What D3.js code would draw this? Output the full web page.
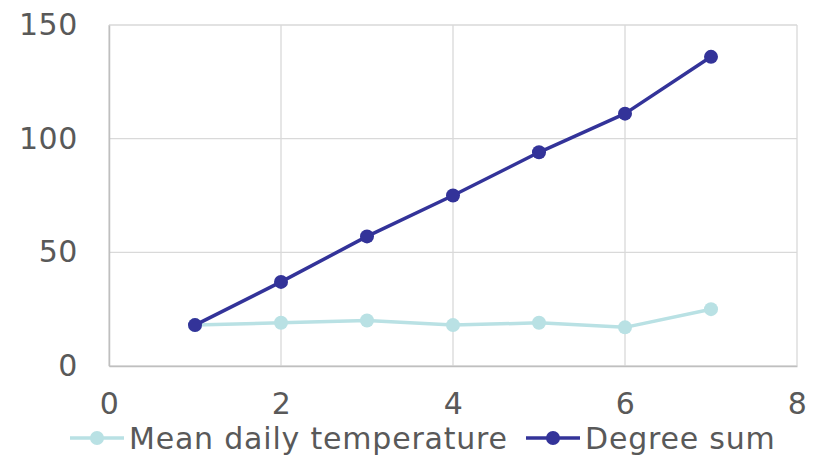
<!DOCTYPE html>
<html>
<head>
<meta charset="utf-8">
<script src="https://cdn.jsdelivr.net/npm/d3@7"></script>
<style>
  html, body { margin: 0; padding: 0; background: #fff; }
  svg text { font-family: Verdana, "DejaVu Sans", sans-serif; fill: #595959; }
</style>
</head>
<body>
<svg id="chart" width="816" height="455"></svg>
<script>
// Day number
const days = [1, 2, 3, 4, 5, 6, 7];
// Mean daily temperature (°C)
const meanTemp = [18, 19, 20, 18, 19, 17, 25];
// Running degree sum
const degreeSum = [18, 37, 57, 75, 94, 111, 136];

const xTicks = [0, 2, 4, 6, 8];
const yTicks = [0, 50, 100, 150];

const seriesNames = ["Mean daily temperature", "Degree sum"];
const seriesColors = ["#b9e1e4", "#333399"];

const FONT = 30;
const svg = d3.select("#chart");
const margin = { left: 109, right: 19, top: 25, bottom: 89 };
const W = 816, H = 455;

const x = d3.scaleLinear().domain([0, 8]).range([margin.left, W - margin.right]);
const y = d3.scaleLinear().domain([0, 150]).range([H - margin.bottom, margin.top]);

// Gridlines
const grid = svg.append("g");
grid.selectAll("line.v").data(xTicks).join("line")
  .attr("x1", d => x(d)).attr("x2", d => x(d))
  .attr("y1", y(0)).attr("y2", y(150))
  .attr("stroke", "#d9d9d9").attr("stroke-width", 1.3);
grid.selectAll("line.h").data(yTicks).join("line")
  .attr("x1", x(0)).attr("x2", x(8))
  .attr("y1", d => y(d)).attr("y2", d => y(d))
  .attr("stroke", "#d9d9d9").attr("stroke-width", 1.3);

// Axes
const xAxis = svg.append("g").attr("transform", `translate(0,${y(0)})`)
  .call(d3.axisBottom(x).tickValues(xTicks).tickSize(0).tickPadding(27));
const yAxis = svg.append("g").attr("transform", `translate(${x(0)},0)`)
  .call(d3.axisLeft(y).tickValues(yTicks).tickSize(0).tickPadding(31));
[xAxis, yAxis].forEach(a => {
  a.select(".domain").attr("stroke", "#bfbfbf").attr("stroke-width", 1.5);
  a.selectAll("text").attr("font-size", FONT)
    .attr("font-family", "Verdana, DejaVu Sans, sans-serif")
    .attr("letter-spacing", "0.6px").attr("fill", "#595959");
});

// Series
const series = [meanTemp, degreeSum];
const line = d3.line().x((d, i) => x(days[i])).y(d => y(d));
series.forEach((vals, s) => {
  svg.append("path").datum(vals)
    .attr("d", line).attr("fill", "none")
    .attr("stroke", seriesColors[s]).attr("stroke-width", 3.5)
    .attr("stroke-linejoin", "round");
  svg.append("g").selectAll("circle").data(vals).join("circle")
    .attr("cx", (d, i) => x(days[i])).attr("cy", d => y(d))
    .attr("r", 7).attr("fill", seriesColors[s]);
});

// Legend
const legendItems = [
  { x0: 70, name: seriesNames[0], color: seriesColors[0] },
  { x0: 526, name: seriesNames[1], color: seriesColors[1] }
];
const ly = 438;
legendItems.forEach(it => {
  const g = svg.append("g");
  g.append("line").attr("x1", it.x0).attr("x2", it.x0 + 54)
    .attr("y1", ly).attr("y2", ly)
    .attr("stroke", it.color).attr("stroke-width", 3.5);
  g.append("circle").attr("cx", it.x0 + 27).attr("cy", ly).attr("r", 7).attr("fill", it.color);
  g.append("text").attr("x", it.x0 + 59).attr("y", ly).attr("dy", "0.36em")
    .attr("font-size", FONT).attr("letter-spacing", "0.8px").text(it.name);
});
</script>
</body>
</html>
